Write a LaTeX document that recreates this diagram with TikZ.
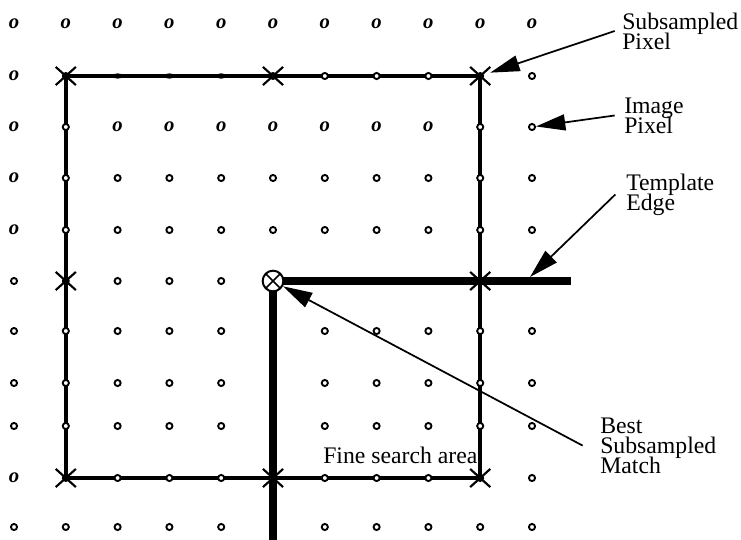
\documentclass[tikz,border=0pt]{standalone}
\usepackage{fontspec}
\setmainfont{Liberation Serif}
\usetikzlibrary{arrows.meta,shapes.misc,shapes.geometric}
\newcommand\lblfont{\fontsize{17.8}{14.8}\selectfont\lineskiplimit=-30pt\relax}
\begin{document}
\begin{tikzpicture}[x=0.75pt,y=-0.75pt,
  ito/.style={inner sep=0pt, font=\fontsize{15.5}{15.5}\selectfont\bfseries\itshape},
  circ/.style={circle, draw, fill=white, line width=1.4pt, minimum size=4.6pt, inner sep=0pt},
  fdot/.style={ellipse, fill=black, minimum width=8pt, minimum height=4pt, inner sep=0pt},
  xm/.style={cross out, draw, line width=1.6pt, minimum width=13.5pt, minimum height=12pt, inner sep=0pt},
  xcore/.style={circle, fill=black, minimum size=6pt, inner sep=0pt},
  bigc/.style={circle, draw, fill=white, line width=1.5pt, minimum size=15.5pt, inner sep=0pt},
  bigx/.style={cross out, draw, line width=1.3pt, minimum size=10pt, inner sep=0pt},
  frame/.style={line width=2.6pt},
  tedge/.style={line width=6.5pt},
  lbl/.style={font=\lblfont, align=left, inner sep=0pt, anchor=base west},
  arr/.style={line width=1.3pt, -{Triangle[length=22pt,width=12pt]}},
]
\useasboundingbox (0,0) rectangle (741,539);
\def\rowys{24,76,127,178,230,281,331,383,426,478,527}
\foreach \y [count=\j from 0] in \rowys {
  \foreach \i in {0,...,10} {
    \coordinate (p-\i-\j) at ({14+51.8*\i}, \y);
  }
}
\coordinate (tend) at (571,281);
\coordinate (vend) at ({14+51.8*5},545);
\coordinate (tep) at (530,277);

% search area frame and template edge
\draw[frame] (p-1-1) rectangle (p-9-9);
\draw[tedge] (p-5-5) -- (tend);
\draw[tedge] (p-5-5) -- (vend);

% row 0
\foreach \i in {0,...,10} \node[ito] (m-\i-0) at (p-\i-0) {o};
% row 1
\node[ito] (m-0-1) at (p-0-1) {o};
\foreach \i in {2,3,4} \node[fdot] (m-\i-1) at (p-\i-1) {};
\foreach \i in {6,7,8,10} \node[circ] (m-\i-1) at (p-\i-1) {};
% row 2
\foreach \i in {0,2,3,4,5,6,7,8} \node[ito] (m-\i-2) at (p-\i-2) {o};
\foreach \i in {1,9,10} \node[circ] (m-\i-2) at (p-\i-2) {};
% rows 3,4
\foreach \j in {3,4} {
  \node[ito] (m-0-\j) at (p-0-\j) {o};
  \foreach \i in {1,...,10} \node[circ] (m-\i-\j) at (p-\i-\j) {};
}
% row 5
\foreach \i in {0,2,3,4} \node[circ] (m-\i-5) at (p-\i-5) {};
% rows 6-8, 10
\foreach \j in {6,7,8,10} {
  \foreach \i in {0,1,2,3,4,6,7,8,9,10} \node[circ] (m-\i-\j) at (p-\i-\j) {};
}
% row 9
\node[ito] (m-0-9) at (p-0-9) {o};
\foreach \i in {2,3,4,6,7,8,10} \node[circ] (m-\i-9) at (p-\i-9) {};

% subsampled pixels
\foreach \i/\j in {1/1,5/1,9/1,1/5,9/5,1/9,5/9,9/9} {
  \node[xm] (m-\i-\j) at (p-\i-\j) {};
  \node[xcore] (k-\i-\j) at (p-\i-\j) {};
}

% best subsampled match
\node[bigc] (bm) at (p-5-5) {};
\node[bigx] (bmx) at (p-5-5) {};

% labels (anchor = baseline of the last line)
\node[lbl] (lsp) at (622,49) {Subsampled\\Pixel};
\node[lbl] (lip) at (624,133) {Image\\Pixel};
\node[lbl] (lte) at (626,210) {Template\\Edge};
\node[lbl] (lbm) at (600,473) {Best\\Subsampled\\Match};
\node[lbl] (lfs) at (323,463) {Fine search area};

% arrows
\draw[arr] ([xshift=-5.5pt]lsp.west) -- (m-9-1);
\draw[arr] ([xshift=-7pt]lip.west) -- (m-10-2);
\draw[arr] ([xshift=-8pt]lte.west) -- (tep);
\draw[arr] ([xshift=-13pt]lbm.west) -- (bm);
\end{tikzpicture}
\end{document}
